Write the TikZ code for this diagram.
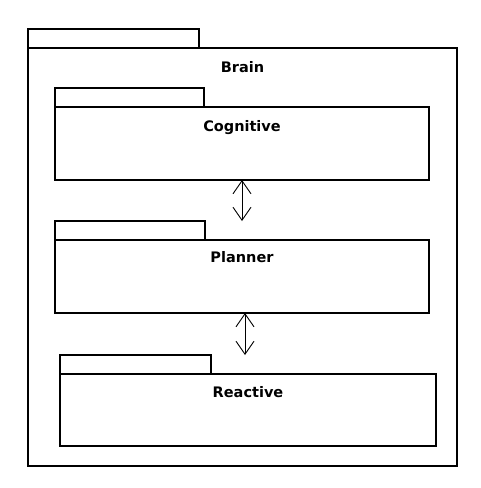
\documentclass[tikz,border=0pt]{standalone}
\usepackage{fontspec}
\setsansfont{DejaVu Sans}
\usetikzlibrary{positioning}
\usetikzlibrary{arrows.meta}

\begin{document}
\begin{tikzpicture}[x=1pt, y=-1pt, font=\sffamily\bfseries]
    \tikzstyle{pkg}=[draw=black, line width=1.8pt, rectangle, fill=none, inner sep=0pt, outer sep=0pt]
    \tikzstyle{tab}=[pkg, anchor=south west, minimum height=19pt]
    \tikzstyle{title}=[font=\fontsize{14.5}{17}\sffamily\bfseries, inner sep=0pt]
    \tikzstyle{link}=[<->, >={Straight Barb[length=13pt, width=18pt]}, line width=0.9pt]

    \useasboundingbox (0,0) rectangle (481,488);

    \node[pkg, anchor=north west, minimum width=429pt, minimum height=418pt] (brain) at (28,48) {};
    \node[tab, minimum width=171pt] (brainTab) at (brain.north west) {};
    \node[title, below=24pt of brain.north, anchor=base] {Brain};

    \node[pkg, below right=59pt and 27pt of brain.north west, minimum width=374pt, minimum height=73pt] (cog) {};
    \node[tab, minimum width=149pt] (cogTab) at (cog.north west) {};
    \node[title, below=24pt of cog.north, anchor=base] {Cognitive};

    \node[pkg, below=60pt of cog.south west, anchor=north west, minimum width=374pt, minimum height=73pt] (plan) {};
    \node[tab, minimum width=150pt] (planTab) at (plan.north west) {};
    \node[title, below=22pt of plan.north, anchor=base] {Planner};

    \node[pkg, below right=61pt and 5pt of plan.south west, minimum width=376pt, minimum height=72pt] (react) {};
    \node[tab, minimum width=151pt] (reactTab) at (react.north west) {};
    \node[title, below=23pt of react.north, anchor=base] {Reactive};

    \draw[link] (cog.south) -- (cog.south |- planTab.north);
    \draw[link] ([xshift=3pt]plan.south) -- ([xshift=3pt]plan.south |- reactTab.north);
\end{tikzpicture}
\end{document}
